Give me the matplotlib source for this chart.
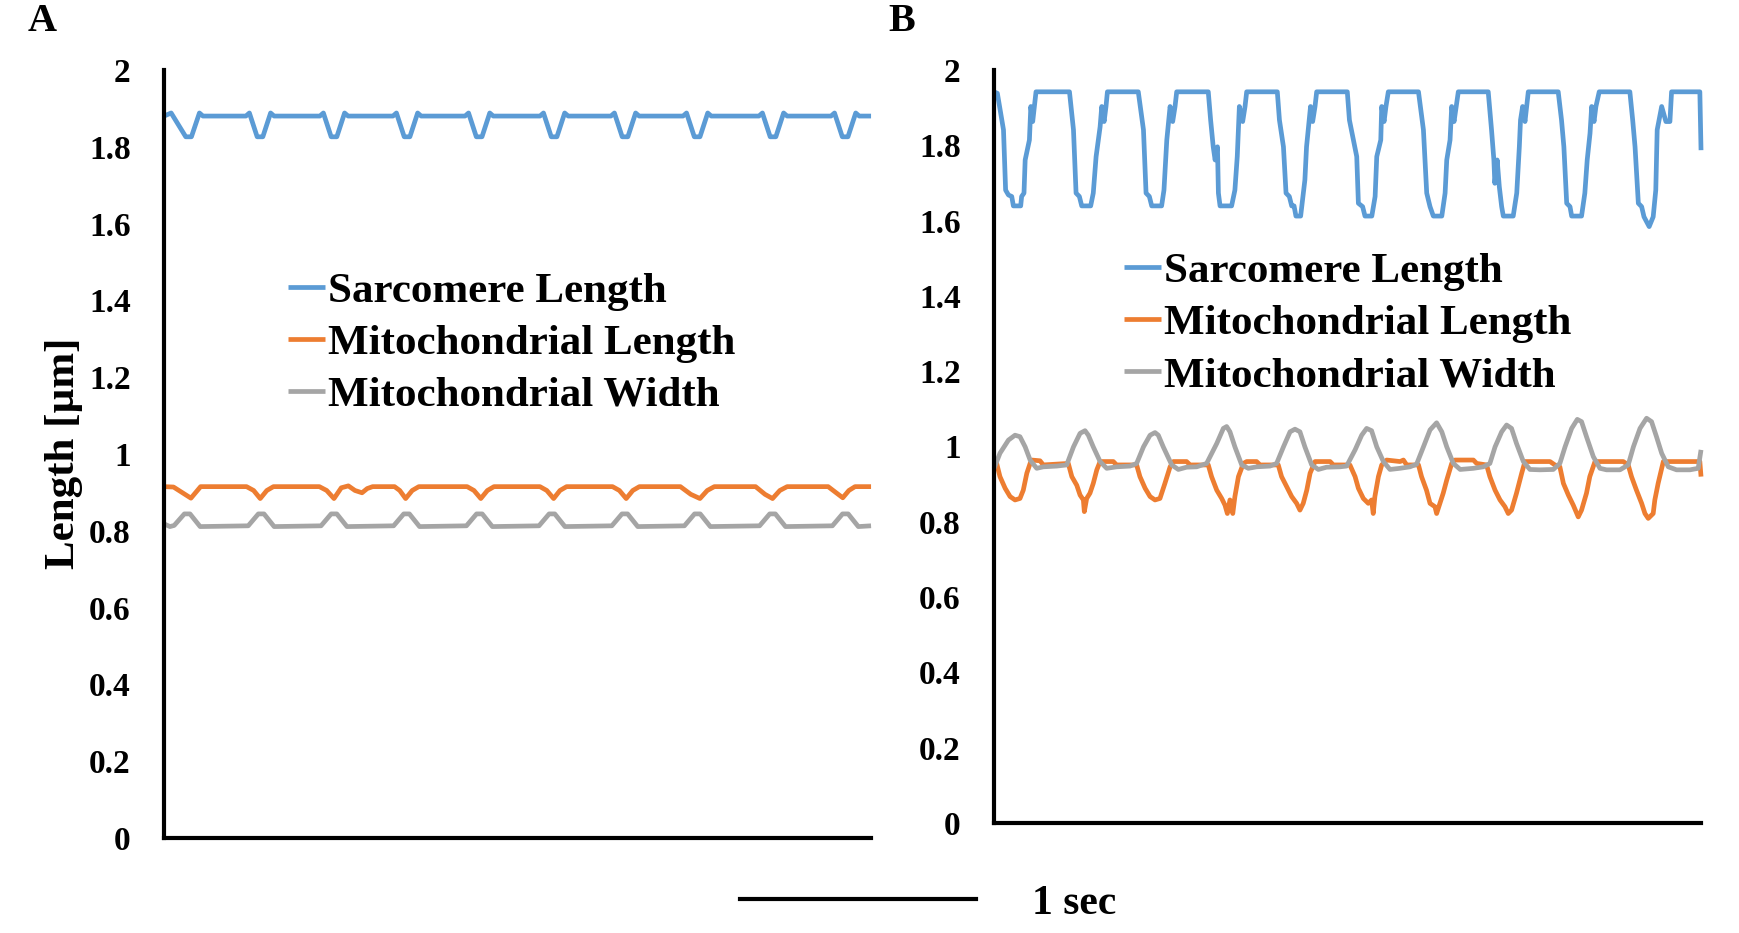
import numpy as np
import matplotlib
matplotlib.use('Agg')
import matplotlib.pyplot as plt
import matplotlib.transforms as mtransforms

plt.rcParams['font.family'] = ['Liberation Serif', 'DejaVu Serif']
plt.rcParams['font.weight'] = 'bold'

# time [s], length [um]
labels = ['Sarcomere Length', 'Mitochondrial Length', 'Mitochondrial Width']
colors = ['#5B9BD5', '#ED7D31', '#A5A5A5']
yticks = [0, 0.2, 0.4, 0.6, 0.8, 1, 1.2, 1.4, 1.6, 1.8, 2]
yticklabels = ['0', '0.2', '0.4', '0.6', '0.8', '1', '1.2', '1.4', '1.6', '1.8', '2']

# ---- panel A
a_sarc = [(0.000, 1.880), (0.030, 1.888), (0.092, 1.826), (0.116, 1.826), (0.150, 1.888), (0.165, 1.880),
          (0.347, 1.880), (0.362, 1.888), (0.395, 1.826), (0.419, 1.826), (0.452, 1.888), (0.467, 1.880),
          (0.661, 1.880), (0.676, 1.888), (0.709, 1.826), (0.733, 1.826), (0.766, 1.888), (0.781, 1.880),
          (0.971, 1.880), (0.986, 1.888), (1.019, 1.826), (1.043, 1.826), (1.076, 1.888), (1.091, 1.880),
          (1.277, 1.880), (1.292, 1.888), (1.325, 1.826), (1.349, 1.826), (1.382, 1.888), (1.397, 1.880),
          (1.595, 1.880), (1.610, 1.888), (1.643, 1.826), (1.667, 1.826), (1.700, 1.888), (1.715, 1.880),
          (1.896, 1.880), (1.911, 1.888), (1.944, 1.826), (1.968, 1.826), (2.001, 1.888), (2.016, 1.880),
          (2.202, 1.880), (2.217, 1.888), (2.250, 1.826), (2.274, 1.826), (2.307, 1.888), (2.322, 1.880),
          (2.524, 1.880), (2.539, 1.888), (2.572, 1.826), (2.596, 1.826), (2.629, 1.888), (2.644, 1.880),
          (2.830, 1.880), (2.845, 1.888), (2.878, 1.826), (2.902, 1.826), (2.935, 1.888), (2.950, 1.880),
          (3.000, 1.880)]

a_mlen = [(0.000, 0.915), (0.040, 0.914), (0.114, 0.885), (0.155, 0.915), (0.350, 0.915), (0.380, 0.905),
          (0.408, 0.884), (0.436, 0.905), (0.464, 0.915), (0.659, 0.915), (0.690, 0.905), (0.721, 0.884),
          (0.752, 0.912), (0.782, 0.917), (0.810, 0.905), (0.840, 0.899), (0.862, 0.910), (0.885, 0.915),
          (0.978, 0.915), (1.000, 0.905), (1.025, 0.884), (1.053, 0.905), (1.081, 0.915), (1.286, 0.915),
          (1.315, 0.905), (1.344, 0.884), (1.372, 0.905), (1.400, 0.915), (1.595, 0.915), (1.624, 0.905),
          (1.653, 0.884), (1.680, 0.905), (1.708, 0.915), (1.903, 0.915), (1.932, 0.905), (1.961, 0.884),
          (1.989, 0.905), (2.017, 0.915), (2.191, 0.915), (2.235, 0.895), (2.274, 0.884), (2.305, 0.905),
          (2.335, 0.915), (2.510, 0.915), (2.550, 0.895), (2.582, 0.884), (2.613, 0.905), (2.644, 0.915),
          (2.818, 0.915), (2.850, 0.900), (2.880, 0.886), (2.906, 0.905), (2.932, 0.915), (3.000, 0.915)]

a_mwid = [(0.000, 0.818), (0.025, 0.811), (0.043, 0.814), (0.086, 0.844), (0.110, 0.844), (0.153, 0.811),
          (0.357, 0.813), (0.400, 0.844), (0.424, 0.844), (0.467, 0.811), (0.666, 0.813), (0.709, 0.844),
          (0.733, 0.844), (0.776, 0.811), (0.974, 0.813), (1.017, 0.844), (1.041, 0.844), (1.084, 0.811),
          (1.283, 0.813), (1.326, 0.844), (1.350, 0.844), (1.393, 0.811), (1.591, 0.813), (1.634, 0.844),
          (1.658, 0.844), (1.701, 0.811), (1.900, 0.813), (1.943, 0.844), (1.967, 0.844), (2.010, 0.811),
          (2.208, 0.813), (2.251, 0.844), (2.275, 0.844), (2.318, 0.811), (2.527, 0.813), (2.570, 0.844),
          (2.594, 0.844), (2.637, 0.811), (2.836, 0.813), (2.879, 0.844), (2.903, 0.844), (2.946, 0.811),
          (3.000, 0.813)]

# ---- panel B
b_sarc = [(0.000, 1.942), (0.014, 1.938), (0.040, 1.841), (0.049, 1.681), (0.061, 1.668), (0.075, 1.664),
          (0.082, 1.639), (0.113, 1.639), (0.117, 1.664), (0.127, 1.673), (0.132, 1.761), (0.150, 1.814),
          (0.156, 1.903), (0.164, 1.863), (0.171, 1.903), (0.178, 1.942),
          (0.320, 1.942), (0.337, 1.841), (0.348, 1.673), (0.362, 1.664), (0.372, 1.639), (0.410, 1.639),
          (0.421, 1.673), (0.433, 1.770), (0.450, 1.849), (0.457, 1.903), (0.467, 1.863), (0.475, 1.903),
          (0.481, 1.942),
          (0.612, 1.942), (0.634, 1.841), (0.645, 1.673), (0.659, 1.664), (0.669, 1.639), (0.711, 1.639),
          (0.721, 1.681), (0.733, 1.814), (0.747, 1.903), (0.758, 1.863), (0.768, 1.903), (0.775, 1.942),
          (0.909, 1.942), (0.919, 1.867), (0.930, 1.796), (0.938, 1.761), (0.948, 1.796), (0.952, 1.673),
          (0.959, 1.639), (1.008, 1.639), (1.022, 1.681), (1.032, 1.770), (1.041, 1.903), (1.055, 1.863),
          (1.065, 1.903), (1.072, 1.942),
          (1.202, 1.942), (1.211, 1.867), (1.228, 1.796), (1.239, 1.673), (1.253, 1.664), (1.263, 1.639),
          (1.273, 1.639), (1.281, 1.612), (1.301, 1.612), (1.319, 1.708), (1.326, 1.796), (1.343, 1.903),
          (1.352, 1.863), (1.362, 1.903), (1.369, 1.942),
          (1.499, 1.942), (1.508, 1.867), (1.525, 1.814), (1.539, 1.770), (1.546, 1.646), (1.564, 1.637),
          (1.574, 1.612), (1.603, 1.612), (1.617, 1.664), (1.624, 1.770), (1.641, 1.814), (1.645, 1.903),
          (1.655, 1.863), (1.663, 1.903), (1.673, 1.942),
          (1.801, 1.942), (1.822, 1.841), (1.836, 1.673), (1.850, 1.637), (1.864, 1.612), (1.900, 1.612),
          (1.914, 1.673), (1.921, 1.761), (1.935, 1.814), (1.942, 1.903), (1.952, 1.863), (1.961, 1.903),
          (1.970, 1.942),
          (2.097, 1.942), (2.111, 1.841), (2.121, 1.761), (2.125, 1.699), (2.135, 1.761), (2.144, 1.690),
          (2.154, 1.637), (2.161, 1.612), (2.203, 1.612), (2.218, 1.673), (2.229, 1.796), (2.234, 1.867),
          (2.243, 1.903), (2.253, 1.863), (2.260, 1.903), (2.267, 1.942),
          (2.394, 1.942), (2.408, 1.867), (2.418, 1.796), (2.430, 1.646), (2.444, 1.637), (2.451, 1.612),
          (2.493, 1.612), (2.507, 1.673), (2.517, 1.761), (2.529, 1.832), (2.536, 1.903), (2.546, 1.863),
          (2.554, 1.903), (2.568, 1.942),
          (2.698, 1.942), (2.710, 1.867), (2.720, 1.796), (2.734, 1.646), (2.748, 1.637), (2.758, 1.610),
          (2.780, 1.584), (2.797, 1.610), (2.808, 1.681), (2.814, 1.841), (2.833, 1.903), (2.851, 1.863),
          (2.868, 1.863), (2.875, 1.942), (2.995, 1.942), (3.000, 1.787)]

b_mlen = [(0.000, 0.964), (0.011, 0.955), (0.025, 0.920), (0.047, 0.889), (0.068, 0.867), (0.089, 0.858),
          (0.110, 0.862), (0.124, 0.884), (0.139, 0.929), (0.153, 0.955), (0.160, 0.964), (0.195, 0.962),
          (0.209, 0.951), (0.315, 0.955), (0.330, 0.920), (0.351, 0.897), (0.365, 0.871), (0.379, 0.858),
          (0.383, 0.827), (0.393, 0.862), (0.407, 0.876), (0.421, 0.902), (0.436, 0.938), (0.450, 0.960),
          (0.506, 0.960), (0.520, 0.951), (0.605, 0.951), (0.619, 0.920), (0.641, 0.889), (0.662, 0.867),
          (0.683, 0.858), (0.704, 0.862), (0.725, 0.902), (0.747, 0.946), (0.761, 0.960), (0.817, 0.960),
          (0.832, 0.951), (0.909, 0.951), (0.923, 0.920), (0.945, 0.884), (0.966, 0.862), (0.980, 0.844),
          (0.990, 0.822), (1.001, 0.858), (1.013, 0.822), (1.022, 0.867), (1.037, 0.920), (1.058, 0.955),
          (1.072, 0.960), (1.114, 0.960), (1.129, 0.951), (1.206, 0.951), (1.220, 0.920), (1.242, 0.893),
          (1.263, 0.867), (1.284, 0.849), (1.298, 0.831), (1.312, 0.849), (1.327, 0.884), (1.341, 0.929),
          (1.362, 0.960), (1.426, 0.960), (1.440, 0.951), (1.510, 0.951), (1.532, 0.920), (1.546, 0.889),
          (1.567, 0.862), (1.588, 0.849), (1.602, 0.858), (1.609, 0.822), (1.616, 0.867), (1.631, 0.920),
          (1.645, 0.951), (1.666, 0.964), (1.723, 0.960), (1.737, 0.964), (1.751, 0.951), (1.801, 0.951),
          (1.814, 0.920), (1.835, 0.884), (1.850, 0.849), (1.871, 0.840), (1.878, 0.822), (1.892, 0.849),
          (1.906, 0.876), (1.921, 0.911), (1.942, 0.955), (1.956, 0.964), (2.034, 0.964), (2.048, 0.955),
          (2.090, 0.951), (2.104, 0.920), (2.126, 0.884), (2.147, 0.858), (2.168, 0.840), (2.182, 0.822),
          (2.196, 0.831), (2.217, 0.876), (2.239, 0.929), (2.253, 0.960), (2.359, 0.960), (2.380, 0.951),
          (2.401, 0.946), (2.416, 0.902), (2.437, 0.871), (2.458, 0.844), (2.479, 0.813), (2.493, 0.831),
          (2.514, 0.876), (2.528, 0.920), (2.550, 0.960), (2.670, 0.960), (2.691, 0.951), (2.705, 0.920),
          (2.726, 0.884), (2.748, 0.849), (2.762, 0.822), (2.776, 0.809), (2.797, 0.822), (2.804, 0.858),
          (2.818, 0.902), (2.840, 0.960), (2.995, 0.960), (3.000, 0.920)]

b_mwid = [(0.000, 0.942), (0.025, 0.982), (0.061, 1.017), (0.089, 1.030), (0.110, 1.026), (0.132, 0.999),
          (0.153, 0.964), (0.181, 0.942), (0.209, 0.946), (0.266, 0.948), (0.308, 0.951), (0.337, 0.999),
          (0.365, 1.035), (0.386, 1.042), (0.400, 1.030), (0.421, 0.999), (0.450, 0.960), (0.478, 0.942),
          (0.520, 0.946), (0.577, 0.948), (0.605, 0.955), (0.634, 0.999), (0.662, 1.030), (0.683, 1.037),
          (0.697, 1.030), (0.718, 0.999), (0.754, 0.951), (0.782, 0.939), (0.817, 0.945), (0.860, 0.946),
          (0.902, 0.955), (0.945, 1.008), (0.973, 1.048), (0.987, 1.053), (1.001, 1.039), (1.022, 0.999),
          (1.051, 0.951), (1.079, 0.942), (1.114, 0.946), (1.171, 0.948), (1.199, 0.955), (1.228, 0.999),
          (1.256, 1.039), (1.277, 1.046), (1.298, 1.039), (1.319, 0.999), (1.348, 0.951), (1.376, 0.939),
          (1.411, 0.945), (1.468, 0.946), (1.496, 0.948), (1.532, 0.991), (1.560, 1.030), (1.581, 1.048),
          (1.602, 1.042), (1.624, 0.999), (1.652, 0.960), (1.680, 0.939), (1.722, 0.942), (1.765, 0.946),
          (1.793, 0.953), (1.822, 0.999), (1.850, 1.044), (1.878, 1.063), (1.900, 1.039), (1.921, 0.999),
          (1.949, 0.955), (1.978, 0.939), (2.034, 0.942), (2.076, 0.946), (2.104, 0.955), (2.126, 0.999),
          (2.154, 1.039), (2.175, 1.057), (2.196, 1.048), (2.217, 1.008), (2.246, 0.960), (2.274, 0.939),
          (2.316, 0.938), (2.373, 0.939), (2.401, 0.955), (2.423, 0.999), (2.451, 1.048), (2.475, 1.072),
          (2.493, 1.066), (2.514, 1.026), (2.543, 0.973), (2.571, 0.942), (2.599, 0.938), (2.656, 0.938),
          (2.691, 0.951), (2.713, 0.999), (2.741, 1.048), (2.769, 1.075), (2.790, 1.066), (2.811, 1.026),
          (2.833, 0.982), (2.861, 0.946), (2.896, 0.938), (2.953, 0.938), (2.988, 0.942), (3.000, 0.991)]

panels = {'A': [a_sarc, a_mlen, a_mwid], 'B': [b_sarc, b_mlen, b_mwid]}

fig = plt.figure(figsize=(17.4, 9.33), dpi=100)
ax_a = fig.add_axes([0.0943, 0.1018, 0.4063, 0.8232])
ax_b = fig.add_axes([0.5713, 0.1179, 0.4063, 0.8071])

for ax, key in ((ax_a, 'A'), (ax_b, 'B')):
    for series, col, lab in zip(panels[key], colors, labels):
        t, v = np.array(series).T
        ax.plot(t, v, color=col, lw=3.4, label=lab, solid_joinstyle='round',
                solid_capstyle='butt', clip_on=False)
    ax.set_xlim(0, 3.0)
    ax.set_ylim(0, 2)
    ax.set_yticks(yticks)
    ax.set_yticklabels(yticklabels)
    ax.set_xticks([])
    ax.tick_params(axis='y', length=0, pad=24, labelsize=24)
    for s in ('top', 'right'):
        ax.spines[s].set_visible(False)
    for s in ('left', 'bottom'):
        ax.spines[s].set_linewidth(3.0)
        ax.spines[s].set_color('black')

leg_kw = dict(loc='upper left', frameon=False, fontsize=31, handlelength=0.85,
              handletextpad=0.08, labelspacing=0.3, borderpad=0, borderaxespad=0,
              bbox_transform=fig.transFigure)
ax_a.legend(bbox_to_anchor=(0.1655, 0.709), **leg_kw)
ax_b.legend(bbox_to_anchor=(0.646, 0.730), **leg_kw)

fig.text(0.037, 0.514, 'Length [µm]', rotation=90, ha='center', va='center', fontsize=31)
fig.text(0.024, 0.977, 'A', ha='center', va='center', fontsize=29)
fig.text(0.518, 0.977, 'B', ha='center', va='center', fontsize=29)

# 1 sec scale bar, in the time units of panel B
trans = mtransforms.blended_transform_factory(ax_b.transData, fig.transFigure)
ax_b.plot([-1.078, -0.078], [0.0364, 0.0364], color='black', lw=3.0, transform=trans, clip_on=False)
ax_b.text(0.161, 0.031, '1 sec', transform=trans, ha='left', va='center', fontsize=30)

plt.savefig('out.png', dpi=100)
